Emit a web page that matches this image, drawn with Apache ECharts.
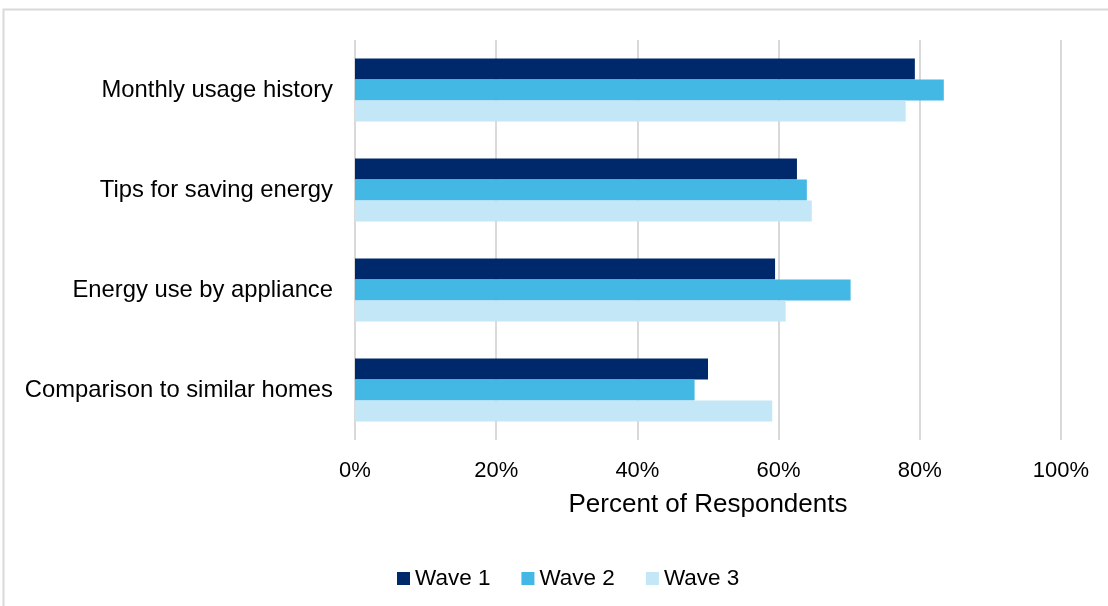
<!DOCTYPE html>
<html>
<head>
<meta charset="utf-8">
<script src="https://cdn.jsdelivr.net/npm/echarts@6/dist/echarts.min.js"></script>
<style>
  html, body { margin: 0; padding: 0; background: #fff; }
  #chart { width: 1108px; height: 606px; }
</style>
</head>
<body>
<div id="chart"></div>
<script>
// Features of the usage report, share of respondents per survey wave
const categories = [
  'Monthly usage history',
  'Tips for saving energy',
  'Energy use by appliance',
  'Comparison to similar homes'
];
const wave1 = [79.3, 62.6, 59.5, 50.0];
const wave2 = [83.4, 64.0, 70.2, 48.1];
const wave3 = [78.0, 64.7, 61.0, 59.1];
const seriesNames = ['Wave 1', 'Wave 2', 'Wave 3'];
const seriesColors = ['#00296b', '#43b8e4', '#c3e7f6'];

const font = 'Liberation Sans, Arial, sans-serif';
const chart = echarts.init(document.getElementById('chart'));

chart.setOption({
  backgroundColor: '#ffffff',
  animation: false,
  graphic: [{
    type: 'rect',
    shape: { x: 3.5, y: 9.5, width: 1200, height: 700 },
    style: { fill: 'none', stroke: '#d9d9d9', lineWidth: 2 },
    silent: true,
    z: -10
  }],
  grid: { left: 355, right: 47, top: 40, bottom: 166 },
  legend: {
    data: seriesNames,
    top: 562,
    left: 392,
    itemWidth: 13,
    itemHeight: 13,
    itemGap: 31,
    icon: 'rect',
    textStyle: { fontFamily: font, fontSize: 22.5, color: '#000' }
  },
  xAxis: {
    type: 'value',
    min: 0,
    max: 100,
    interval: 20,
    name: 'Percent of Respondents',
    nameLocation: 'middle',
    nameGap: 52,
    nameTextStyle: { fontFamily: font, fontSize: 26, color: '#000' },
    axisLine: { show: false },
    axisTick: { show: false },
    axisLabel: {
      formatter: '{value}%',
      margin: 20,
      fontFamily: font,
      fontSize: 22,
      color: '#000'
    },
    splitLine: { lineStyle: { color: '#d9d9d9', width: 2 } }
  },
  yAxis: {
    type: 'category',
    data: categories,
    inverse: true,
    axisLine: { show: false },
    axisTick: { show: false },
    axisLabel: {
      margin: 22,
      fontFamily: font,
      fontSize: 23.8,
      color: '#000'
    }
  },
  series: [wave1, wave2, wave3].map((vals, i) => ({
    name: seriesNames[i],
    type: 'bar',
    data: vals,
    barGap: '0%',
    barCategoryGap: '37%',
    itemStyle: { color: seriesColors[i] }
  }))
});
</script>
</body>
</html>
